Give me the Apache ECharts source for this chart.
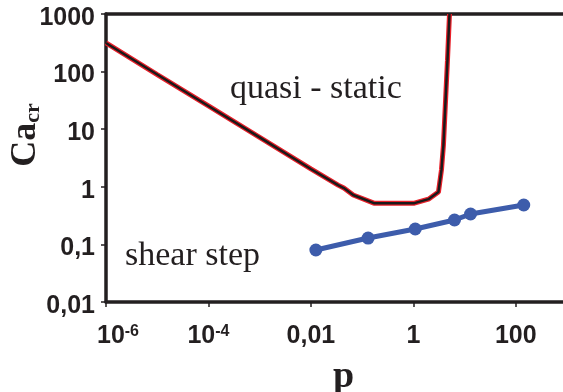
<!DOCTYPE html>
<html>
<head>
<meta charset="utf-8">
<script src="https://cdn.jsdelivr.net/npm/echarts@6/dist/echarts.min.js"></script>
<style>
  html, body { margin: 0; background: #fff; }
  #chart { width: 563px; height: 392px; }
</style>
</head>
<body>
<div id="chart"></div>
<script>
// quasi-static boundary (black line with red edge)
const quasiP = [1e-6, 1e-5, 1e-4, 1e-3, 0.01, 0.034, 0.044, 0.067, 0.17, 1.05, 1.97, 3.09, 3.54, 3.87, 4.64, 5.08];
const quasiCa = [314, 89, 25.3, 7.2, 2.04, 1.07, 0.95, 0.72, 0.52, 0.52, 0.61, 0.81, 1.96, 5.3, 158, 1000];
// shear step points (blue)
const shearP = [0.0125, 0.131, 1.09, 6.37, 13.1, 143];
const shearCa = [0.080, 0.129, 0.185, 0.265, 0.337, 0.483];

const xTickValues = [1e-6, 1e-4, 0.01, 1, 100];
const xTickLabels = ['10^-6', '10^-4', '0,01', '1', '100'];
const yTickValues = [0.01, 0.1, 1, 10, 100, 1000];
const yTickLabels = ['0,01', '0,1', '1', '10', '100', '1000'];

const ink = '#231f20';
const tickFont = { fontFamily: 'Liberation Sans', fontWeight: 'bold', fontSize: 25, color: ink };

function pairs(xs, ys) {
  return xs.map((x, i) => [x, ys[i]]);
}

function nearestIdx(list, v) {
  let best = 0;
  list.forEach((t, i) => {
    if (Math.abs(Math.log10(t) - Math.log10(v)) < Math.abs(Math.log10(list[best]) - Math.log10(v))) best = i;
  });
  return best;
}

const chart = echarts.init(document.getElementById('chart'), null, { renderer: 'canvas' });

const option = {
  animation: false,
  grid: { left: 106, right: -4, top: 14, bottom: 90, containLabel: false, outerBoundsMode: 'none' },
  xAxis: [
    {
      type: 'log',
      min: 1e-6,
      max: 1000,
      name: 'p',
      nameLocation: 'middle',
      nameGap: 56,
      nameMoveOverlap: false,
      nameTextStyle: {
        fontFamily: 'Liberation Serif', fontWeight: 'bold', fontSize: 38, color: ink,
        padding: [0, 0, 0, 14]
      },
      axisLine: { lineStyle: { color: ink, width: 3.5 } },
      axisTick: { customValues: xTickValues, length: 5, lineStyle: { color: ink, width: 1.5 } },
      splitLine: { show: false },
      axisLabel: {
        customValues: xTickValues,
        margin: 22,
        formatter: function (v) {
          const lab = xTickLabels[nearestIdx(xTickValues, v)];
          if (lab.indexOf('^') >= 0) {
            const parts = lab.split('^');
            const first = v < 1e-5;
            return '{' + (first ? 'b0' : 'b') + '|' + parts[0] + '}{s|' + parts[1] + '}';
          }
          return '{b|' + lab + '}';
        },
        rich: {
          b: Object.assign({}, tickFont, { lineHeight: 25 }),
          b0: Object.assign({}, tickFont, { lineHeight: 25, padding: [0, 0, 0, 24] }),
          s: Object.assign({}, tickFont, { fontSize: 16, verticalAlign: 'top', lineHeight: 16 })
        }
      }
    },
    {
      type: 'log',
      position: 'top',
      min: 1e-6,
      max: 1000,
      axisLine: { lineStyle: { color: ink, width: 3.5 } },
      axisTick: { show: false },
      axisLabel: { show: false },
      splitLine: { show: false }
    }
  ],
  yAxis: {
    type: 'log',
    min: 0.01,
    max: 1000,
    name: '{c|Ca}{s|cr}',
    nameLocation: 'middle',
    nameRotate: 90,
    nameGap: 62,
    nameMoveOverlap: false,
    nameTextStyle: {
      padding: [0, 0, 0, 46],
      rich: {
        c: { fontFamily: 'Liberation Serif', fontWeight: 'bold', fontSize: 36, color: ink },
        s: { fontFamily: 'Liberation Serif', fontWeight: 'bold', fontSize: 22, color: ink, verticalAlign: 'bottom' }
      }
    },
    axisLine: { lineStyle: { color: ink, width: 3.5 } },
    axisTick: { length: 5, lineStyle: { color: ink, width: 1.5 } },
    splitLine: { show: false },
    axisLabel: Object.assign({}, tickFont, {
      margin: 11,
      verticalAlign: 'top',
      lineHeight: 8,
      formatter: function (v) {
        return yTickLabels[nearestIdx(yTickValues, v)];
      }
    })
  },
  graphic: [
    {
      type: 'text',
      left: 230, top: 72,
      style: { text: 'quasi - static', fontFamily: 'Liberation Serif', fontSize: 34, fill: ink }
    },
    {
      type: 'text',
      left: 125, top: 239,
      style: { text: 'shear step', fontFamily: 'Liberation Serif', fontSize: 34, fill: ink }
    }
  ],
  series: [
    {
      type: 'line',
      data: pairs(quasiP, quasiCa),
      showSymbol: false,
      lineStyle: { color: '#e8202a', width: 5 },
      z: 2
    },
    {
      type: 'line',
      data: pairs(quasiP, quasiCa),
      showSymbol: false,
      lineStyle: { color: '#1a1a1a', width: 2.5 },
      z: 3
    },
    {
      type: 'line',
      data: pairs(shearP, shearCa),
      symbol: 'circle',
      symbolSize: 13,
      itemStyle: { color: '#3d5cab' },
      lineStyle: { color: '#3d5cab', width: 5 },
      z: 4
    }
  ]
};

chart.setOption(option);
</script>
</body>
</html>
